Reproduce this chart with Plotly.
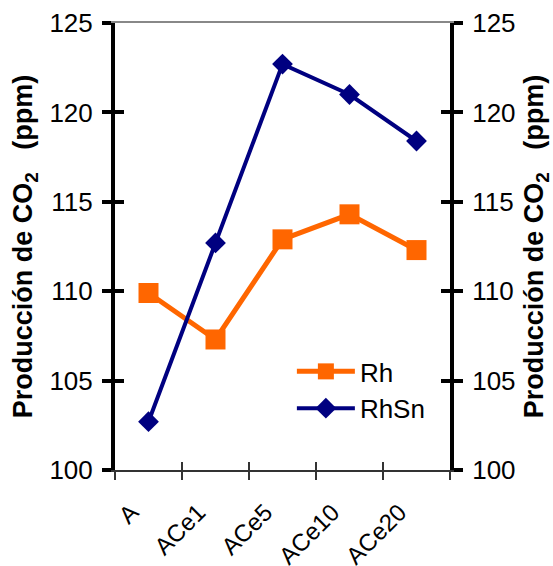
import plotly.graph_objects as go

# Catalyst series and CO2 production (ppm)
categories = ["A", "ACe1", "ACe5", "ACe10", "ACe20"]
rh_values = [109.9, 107.3, 112.9, 114.3, 112.3]
rhsn_values = [102.7, 112.7, 122.7, 121.0, 118.4]
y_ticks = [100, 105, 110, 115, 120, 125]
boundary_ticks = [-0.5, 0.5, 1.5, 2.5, 3.5, 4.5]

FONT = "Liberation Sans, Arial, sans-serif"
title_text = "<b>Producción de CO<sub>2</sub>   (ppm)</b>"

fig = go.Figure()
fig.add_trace(go.Scatter(
    x=categories, y=rh_values, name="Rh", mode="lines+markers",
    line=dict(color="#FF6600", width=5),
    marker=dict(symbol="square", size=20, color="#FF6600"),
))
fig.add_trace(go.Scatter(
    x=categories, y=rhsn_values, name="RhSn", mode="lines+markers",
    line=dict(color="#000080", width=4),
    marker=dict(symbol="diamond", size=16, color="#000080"),
))

# empty traces so the decoration axes (crossing ticks, both value axes, top frame) are drawn
for xa, ya in [("x2", "y"), ("x3", "y"), ("x", "y2"), ("x", "y3"),
               ("x", "y4"), ("x", "y5")]:
    fig.add_trace(go.Scatter(x=[], y=[], xaxis=xa, yaxis=ya, showlegend=False,
                             hoverinfo="skip", mode="markers"))

y_common = dict(range=[100, 125], tickvals=y_ticks, showgrid=False,
                zeroline=False, fixedrange=True, automargin=False)
value_axis = dict(
    ticks="outside", ticklen=9, tickwidth=4, tickcolor="black",
    showline=True, linecolor="black", linewidth=4,
    tickfont=dict(size=26, family=FONT), ticklabelstandoff=4,
)
inner_ticks = dict(ticks="inside", ticklen=9, tickwidth=4, tickcolor="black",
                   showticklabels=False, showline=False)
x_common = dict(range=[-0.5, 4.5], showgrid=False, zeroline=False,
                automargin=False, fixedrange=True)

fig.update_layout(
    width=553, height=566,
    margin=dict(l=115, r=103, t=23, b=96),
    paper_bgcolor="white", plot_bgcolor="white",
    font=dict(family=FONT, color="black"),
    showlegend=True,
    legend=dict(x=0.528, y=0.273, xanchor="left", yanchor="top",
                font=dict(size=26, family=FONT), bgcolor="rgba(0,0,0,0)",
                itemwidth=58),
    xaxis=dict(
        **x_common, type="category", categoryarray=categories,
        tickson="boundaries", ticks="outside", ticklen=8, tickwidth=1.5,
        tickcolor="#333333", showline=True, linecolor="#333333", linewidth=1.5,
        tickangle=-45, tickfont=dict(size=24, family=FONT),
        ticklabelstandoff=17, ticklabelshift=-17,
    ),
    xaxis2=dict(
        **x_common, overlaying="x", anchor="y", side="bottom",
        tickvals=boundary_ticks, ticks="inside", ticklen=8, tickwidth=1.5,
        tickcolor="#333333", showticklabels=False, showline=False,
    ),
    xaxis3=dict(
        **x_common, overlaying="x", anchor="y", side="top",
        showline=True, linecolor="#888888", linewidth=1.5,
        ticks="", showticklabels=False,
    ),
    # data axis: scale only, the visible value axes are drawn by y5 and y2
    yaxis=dict(**y_common, side="left", ticks="", showticklabels=False,
               showline=False),
    yaxis5=dict(
        **y_common, **value_axis, overlaying="y", anchor="x", side="left",
        title=dict(text=title_text, font=dict(size=27, family=FONT), standoff=10),
    ),
    yaxis3=dict(**y_common, **inner_ticks, overlaying="y", anchor="x", side="left"),
    yaxis2=dict(
        **y_common, **value_axis, overlaying="y", anchor="x", side="right",
        title=dict(text=title_text, font=dict(size=27, family=FONT), standoff=21),
    ),
    yaxis4=dict(**y_common, **inner_ticks, overlaying="y", anchor="x", side="right"),
)

fig.write_html("out.html")
